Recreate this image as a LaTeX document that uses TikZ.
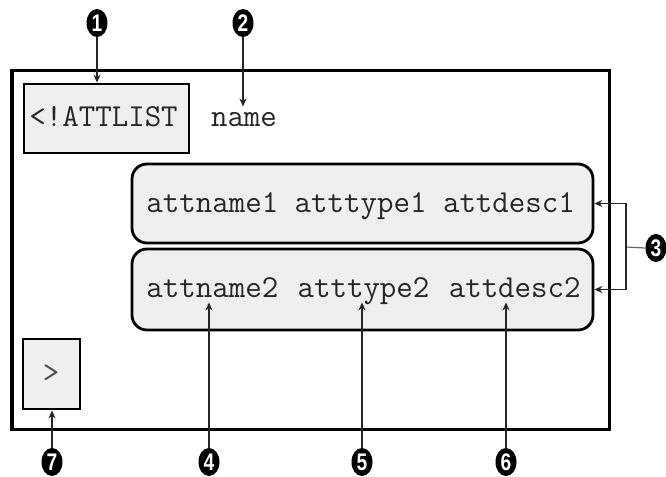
\documentclass[tikz,border=0pt]{standalone}
\usepackage{fontspec}
\newfontfamily\markfont[FakeStretch=0.8]{Liberation Sans}
\usetikzlibrary{arrows.meta,shapes.geometric}
\definecolor{boxfill}{HTML}{EFEFEF}
\begin{document}
\begin{tikzpicture}[x=0.5pt,y=-0.5pt,
  frame/.style={draw=black, line width=1.5pt},
  codebox/.style={draw=black, line width=1.4pt, fill=boxfill, inner sep=0pt},
  code/.style={font=\ttfamily\fontsize{16}{18}\selectfont, text=black!85, inner xsep=0pt, inner ysep=2.5pt},
  marker/.style={ellipse, fill=black, text=white, minimum width=10.5pt, minimum height=14pt, inner sep=0pt, font=\markfont\bfseries\fontsize{12}{12}\selectfont},
  callout/.style={draw=black!85, line width=0.6pt, -{Stealth[length=4pt,width=3.5pt]}},
  plainline/.style={draw=black!60, line width=0.6pt},
]
\useasboundingbox (0,0) rectangle (666,477);
% outer frame
\draw[frame] (12,70) rectangle (609,429);
% boxes
\node[codebox, minimum width=82.5pt, minimum height=34.5pt] (atl) at (106.5,118.5) {};
\node[code, anchor=base west] (atltxt) at (29,126) {<!ATTLIST};
\node[code, anchor=base] (name) at (244,126) {name};
\node[codebox, rounded corners=7.5pt, minimum width=230.5pt, minimum height=39.5pt] (row1) at (362.5,203.5) {};
\node[codebox, rounded corners=7.5pt, minimum width=230.5pt, minimum height=40.5pt] (row2) at (362.5,289.5) {};
\node[code, anchor=base west] (r1txt) at (146,212) {attname1 atttype1 attdesc1};
\node[code, anchor=base west, text depth=0pt] (w1) at (146,297) {attname2};
\node[code, anchor=base west, text depth=0pt] (w2) at (297.2,297) {atttype2};
\node[code, anchor=base west, text depth=0pt] (w3) at (448.4,297) {attdesc2};
\node[codebox, minimum width=28.5pt, minimum height=35pt] (gt) at (51.5,374) {};
\node[code, text=black!70] (gttxt) at (51,374) {>};
% markers
\node[marker] (m1) at (97,23) {1};
\node[marker] (m2) at (243,23) {2};
\node[marker] (m3) at (656,248) {3};
\node[marker] (m4) at (209,462) {4};
\node[marker] (m5) at (362,462) {5};
\node[marker] (m6) at (506,462) {6};
\node[marker] (m7) at (52,462) {7};
\coordinate (br) at (626,247);
% callouts
\draw[callout] (m1.south) -- (m1.south |- atl.north);
\draw[callout] (m2.south) -- (m2.south |- name.north);
\draw[plainline] (m3.west) -- (br);
\draw[callout] (br) |- (row1.east);
\draw[callout] (br) |- (row2.east);
\draw[callout] (m4.north) -- (m4.north |- w1.south);
\draw[callout] (m5.north) -- (m5.north |- w2.south);
\draw[callout] (m6.north) -- (m6.north |- w3.south);
\draw[callout] (m7.north) -- (m7.north |- gt.south);
\end{tikzpicture}
\end{document}
